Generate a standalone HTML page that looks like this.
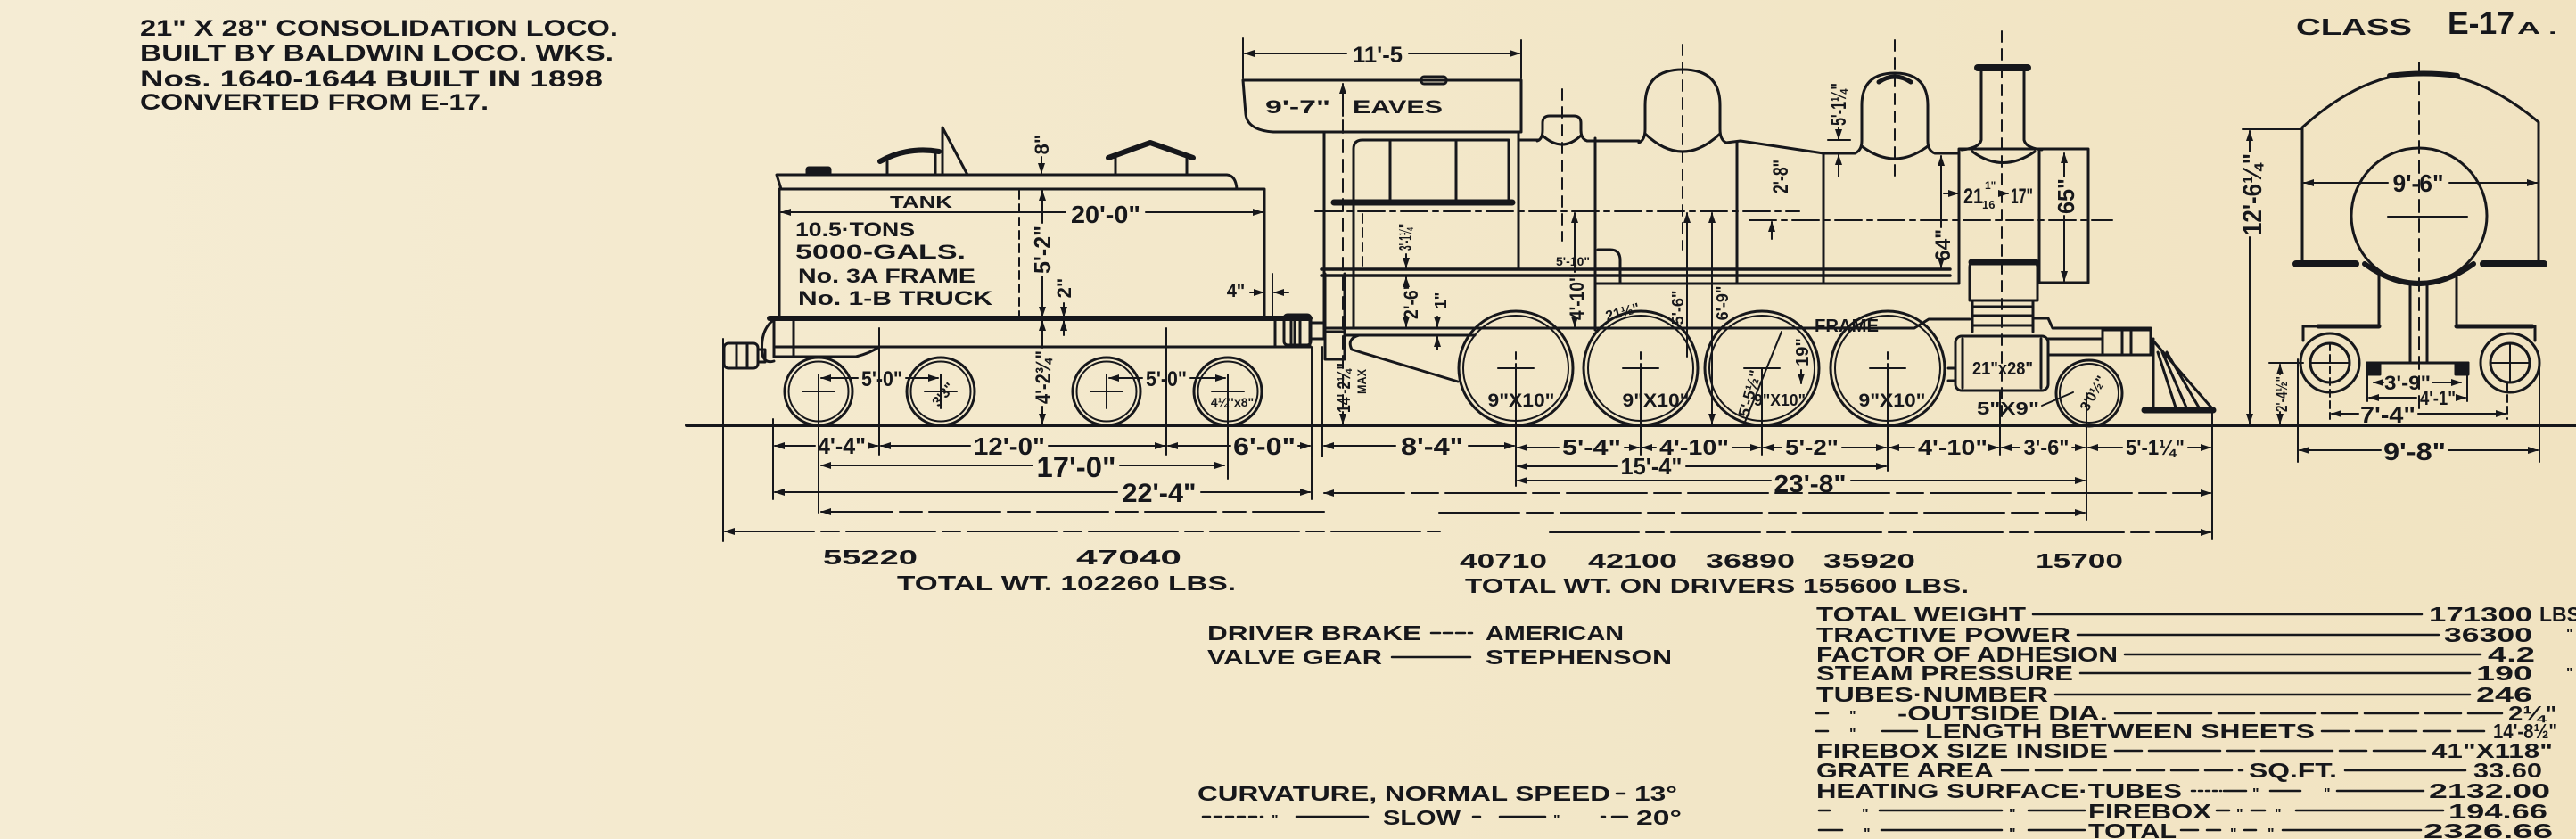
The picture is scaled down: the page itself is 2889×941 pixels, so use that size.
<!DOCTYPE html>
<html><head><meta charset="utf-8">
<style>
html,body{margin:0;padding:0;background:#f3e8cb;}
svg{display:block}
text{font-family:"Liberation Sans",Arial,sans-serif;font-weight:bold;fill:#16171b}
</style></head><body>
<svg width="2889" height="941" viewBox="0 0 2889 941" xmlns="http://www.w3.org/2000/svg">
<defs>
<marker id="a" viewBox="0 0 12 8" refX="11" refY="4" markerWidth="13" markerHeight="8" markerUnits="userSpaceOnUse" orient="auto-start-reverse"><path d="M0,0 L12,4 L0,8 Z" fill="#16171b"/></marker>
<linearGradient id="bg" x1="0" y1="0" x2="1" y2="0"><stop offset="0" stop-color="#f5ecd4"/><stop offset="0.5" stop-color="#f3e8ca"/><stop offset="1" stop-color="#f1e3c1"/></linearGradient>
</defs>
<rect width="2889" height="941" fill="url(#bg)"/>

<g fill="none" stroke="#16171b" stroke-width="3" stroke-linecap="round" stroke-linejoin="round">
<!-- rail -->
<path d="M770,477 H2889" stroke-width="4"/>

<!-- ================= TENDER ================= -->
<path d="M874,357 V212 H1418 V357"/>
<path d="M876,212 L871,196 H1376 Q1386,197 1387,212"/>
<rect x="905" y="188" width="26" height="8" rx="2" fill="#16171b"/>
<path d="M995,196 V178 M1049,196 V172"/>
<path d="M987,181 Q1018,164 1053,170" stroke-width="6"/>
<path d="M1057,196 V143 L1085,196"/>
<path d="M1243,177 L1290,160 L1338,177" stroke-width="6"/>
<path d="M1251,177 V196 M1331,177 V196"/>
<!-- tank dims -->
<g stroke-width="2">
<path d="M1168,176 V194" marker-end="url(#a)"/>
<path d="M1143,214 V355" stroke-dasharray="9 6"/>
<path d="M1169,250 V214" marker-end="url(#a)"/>
<path d="M1169,310 V355" marker-end="url(#a)"/>
<path d="M1193,340 V355" marker-end="url(#a)"/>
<path d="M1193,376 V360" marker-end="url(#a)"/>
<path d="M1169,390 V360" marker-end="url(#a)"/>
<path d="M1169,456 V475" marker-end="url(#a)"/>
<path d="M1195,238 H876" marker-end="url(#a)"/>
<path d="M1285,238 H1416" marker-end="url(#a)"/>
<path d="M1402,328 H1417" marker-end="url(#a)"/>
<path d="M1445,328 H1429" marker-end="url(#a)"/>
<path d="M1427,307 V357"/>
</g>
<!-- frame -->
<path d="M863,357 H1469" stroke-width="6"/>
<path d="M870,389 H1469"/>
<path d="M868,360 V400 M890,360 V400"/>
<path d="M866,360 Q852,372 855,398 Q858,408 868,405"/>
<path d="M868,400 H960 Q976,396 986,389"/>
<rect x="812" y="385" width="38" height="28" rx="5"/>
<path d="M826,385 V413 M838,385 V413 M850,392 H858 V406 H850"/>
<path d="M1430,357 V389 M1448,357 V389 M1458,357 V389 M1469,357 V389"/>
<!-- tender wheels -->
<circle cx="918" cy="439" r="38"/><circle cx="918" cy="439" r="33.5" stroke-width="2"/>
<circle cx="1055" cy="439" r="38"/><circle cx="1055" cy="439" r="33.5" stroke-width="2"/>
<circle cx="1241" cy="439" r="38"/><circle cx="1241" cy="439" r="33.5" stroke-width="2"/>
<circle cx="1377" cy="439" r="38"/><circle cx="1377" cy="439" r="33.5" stroke-width="2"/>
<g stroke-width="2">
<path d="M900,439 H936 M1037,439 H1073 M1223,439 H1259 M1359,439 H1395"/>
<path d="M1055,420 V458 M1241,420 V458"/>
<path d="M962,424 H921" marker-end="url(#a)"/>
<path d="M1016,424 H1052" marker-end="url(#a)"/>
<path d="M1281,424 H1244" marker-end="url(#a)"/>
<path d="M1335,424 H1374" marker-end="url(#a)"/>
</g>

<!-- ================= DIMENSION LINES ================= -->
<g stroke-width="2">
<!-- extension lines -->
<path d="M811,380 V607 M867,470 V560 M918,420 V575 M986,368 V510 M1308,368 V510 M1377,420 V537 M1471,389 V560 M1483,389 V512"/>
<path d="M1700,413 V545 M1840,413 V510 M1976,413 V510 M2117,413 V528 M2243,440 V510 M2340,441 V583 M2481,463 V605"/>
<!-- row 1 -->
<path d="M914,500 H869" marker-end="url(#a)"/><path d="M974,500 H984" marker-end="url(#a)"/>
<path d="M1088,500 H988" marker-end="url(#a)"/><path d="M1176,500 H1306" marker-end="url(#a)"/>
<path d="M1380,500 H1310" marker-end="url(#a)"/><path d="M1456,500 H1469" marker-end="url(#a)"/>
<path d="M1565,500 H1485" marker-end="url(#a)"/><path d="M1647,500 H1698" marker-end="url(#a)"/>
<path d="M1748,502 H1702" marker-end="url(#a)"/><path d="M1822,502 H1838" marker-end="url(#a)"/>
<path d="M1857,502 H1842" marker-end="url(#a)"/><path d="M1943,502 H1974" marker-end="url(#a)"/>
<path d="M1998,502 H1978" marker-end="url(#a)"/><path d="M2066,502 H2115" marker-end="url(#a)"/>
<path d="M2147,502 H2119" marker-end="url(#a)"/><path d="M2233,502 H2241" marker-end="url(#a)"/>
<path d="M2265,502 H2245" marker-end="url(#a)"/><path d="M2324,502 H2338" marker-end="url(#a)"/>
<path d="M2380,502 H2342" marker-end="url(#a)"/><path d="M2454,502 H2479" marker-end="url(#a)"/>
<!-- row 2 -->
<path d="M1158,522 H921" marker-end="url(#a)"/><path d="M1256,522 H1373" marker-end="url(#a)"/>
<path d="M1814,523 H1702" marker-end="url(#a)"/><path d="M1891,523 H2115" marker-end="url(#a)"/>
<!-- row 3 -->
<path d="M1253,552 H869" marker-end="url(#a)"/><path d="M1347,552 H1469" marker-end="url(#a)"/>
<path d="M1986,539 H1702" marker-end="url(#a)"/><path d="M2076,539 H2338" marker-end="url(#a)"/>
<path d="M1485,553 H2479" marker-start="url(#a)" marker-end="url(#a)" stroke-dasharray="90 8 30 8"/>
<!-- row 4 -->
<path d="M921,574 H1490" marker-start="url(#a)" stroke-dasharray="80 8 25 8"/>
<path d="M1614,575 H2338" marker-end="url(#a)" stroke-dasharray="90 8 30 8"/>
<!-- row 5 -->
<path d="M813,596 H1615" marker-start="url(#a)" stroke-dasharray="100 8 20 8"/>
<path d="M1738,597 H2479" marker-end="url(#a)" stroke-dasharray="100 8 20 8"/>
</g>

<!-- ================= LOCOMOTIVE ================= -->
<!-- cab roof -->
<path d="M1394,90 H1706 V148 H1428 Q1399,146 1397,128 Z"/>
<rect x="1594" y="86" width="28" height="8" rx="3"/>
<g stroke-width="2">
<path d="M1510,60 H1396" marker-end="url(#a)"/><path d="M1580,60 H1704" marker-end="url(#a)"/>
<path d="M1394,43 V88 M1706,45 V88"/>
<path d="M1506,130 V94" marker-end="url(#a)"/>
<path d="M1506,135 V475" stroke-dasharray="14 8"/>
</g>
<!-- cab -->
<path d="M1485,148 V373 M1703,148 V302"/>
<path d="M1518,368 V167 Q1518,157 1528,157 H1692 V227"/>
<path d="M1559,157 V227 M1633,157 V227"/>
<path d="M1496,227 H1696" stroke-width="7"/>
<path d="M1528,240 V300" stroke-width="2" stroke-dasharray="10 6"/>
<path d="M1518,368 H1790"/>
<path d="M1486,307 V370 M1508,307 V370"/>
<rect x="1486" y="372" width="22" height="31"/>
<!-- running board -->
<path d="M1482,302 H2187 M1482,309 H2187" stroke-width="3.5"/>
<!-- boiler top, domes -->
<path d="M1703,157 H1726"/>
<path d="M1724,158 Q1730,156 1730,146 V138 Q1730,130 1738,130 H1765 Q1773,130 1773,138 V146 Q1773,156 1780,158 H1838"/>
<path d="M1730,152 Q1752,172 1773,152"/>
<path d="M1838,160 Q1845,157 1845,145 V118 Q1845,78 1887,78 Q1929,78 1929,118 V145 Q1929,157 1936,160 L1952,158 L2045,172 H2080"/>
<path d="M1845,150 Q1887,190 1929,150"/>
<path d="M2080,172 Q2088,169 2088,158 V118 Q2088,82 2125,82 Q2162,82 2162,118 V158 Q2162,169 2170,172 H2197"/>
<path d="M2107,92 Q2125,80 2143,92" stroke-width="5"/>
<path d="M2088,164 Q2125,192 2162,164"/>
<!-- smokebox + stack -->
<path d="M2197,317 V167 H2342 V317 H2287 V170"/>
<path d="M2222,80 V157 Q2220,166 2200,168 M2270,80 V157 Q2272,166 2290,168"/>
<path d="M2218,76 H2274" stroke-width="8"/>
<path d="M2212,170 Q2246,195 2282,170"/>
<!-- boiler verticals / bottom -->
<path d="M1789,155 V370 M1948,160 V318 M2045,172 V318"/>
<path d="M1789,318 H2197"/>
<path d="M1792,280 H1806 Q1817,280 1817,292 V318"/>
<g stroke-width="2">
<path d="M1475,237 H2018" stroke-dasharray="30 6 6 6"/>
<path d="M1962,247 H2369" stroke-dasharray="30 6 6 6"/>
<path d="M1752,100 V270 M1887,50 V280 M2125,45 V205 M2245,35 V470" stroke-dasharray="12 8"/>
</g>
<!-- frame lower -->
<path d="M1485,368 H2147 L2163,358 H2209"/>
<path d="M1508,376 H1654"/>
<path d="M1654,376 H1524 Q1510,380 1516,392 L1635,428"/>
<rect x="1440" y="353" width="30" height="34" rx="4"/>
<path d="M1470,362 H1485 V380 H1470 M1452,353 V387"/>
<!-- drivers -->
<circle cx="1700" cy="413" r="64"/><circle cx="1700" cy="413" r="59" stroke-width="2"/>
<circle cx="1840" cy="413" r="64"/><circle cx="1840" cy="413" r="59" stroke-width="2"/>
<circle cx="1976" cy="413" r="64"/><circle cx="1976" cy="413" r="59" stroke-width="2"/>
<circle cx="2117" cy="413" r="64"/><circle cx="2117" cy="413" r="59" stroke-width="2"/>
<g stroke-width="2">
<path d="M1680,413 H1720 M1820,413 H1860 M1956,413 H1996 M2097,413 H2137"/>
<path d="M1700,395 V432 M1840,395 V432 M2117,395 V432" stroke-dasharray="8 5"/>
</g>
<!-- cylinder, steam chest -->
<rect x="2193" y="377" width="104" height="61" rx="7"/>
<path d="M2201,380 V435 M2289,380 V435 M2185,413 H2193 M2185,427 H2193"/>
<path d="M2209,337 V300 Q2209,293 2216,293 H2278 Q2285,293 2285,300 V337 Z"/>
<path d="M2211,294 H2283" stroke-width="7"/>
<path d="M2212,337 V372 M2280,337 V372 M2212,344 H2280 M2212,354 H2280 M2212,365 H2280"/>
<path d="M2280,357 H2297 L2302,368 H2412 V398 H2297"/>
<path d="M2297,380 H2358"/>
<rect x="2358" y="370" width="54" height="28"/>
<path d="M2380,370 V398 M2390,370 V398"/>
<!-- pilot -->
<path d="M2413,380 L2480,457 M2415,380 V460 M2420,395 L2440,457 M2425,395 L2452,457 M2430,395 L2466,457"/>
<path d="M2405,460 H2482" stroke-width="7"/>
<circle cx="2343" cy="441" r="37"/><circle cx="2343" cy="441" r="33" stroke-width="2"/>
<!-- loco dims -->
<g stroke-width="2">
<path d="M1987,268 V249" marker-end="url(#a)"/>
<path d="M2062,143 V156" marker-end="url(#a)"/>
<path d="M2050,157 H2075"/>
<path d="M2062,198 V174" marker-end="url(#a)"/>
<path d="M2180,217 H2196" marker-end="url(#a)"/>
<path d="M2246,217 H2252" marker-end="url(#a)"/>
<path d="M2315,198 V172" marker-end="url(#a)"/><path d="M2315,242 V315" marker-end="url(#a)"/>
<path d="M2177,255 V175" marker-end="url(#a)"/><path d="M2177,295 V300" marker-end="url(#a)"/>
<path d="M1577,285 V300" marker-end="url(#a)"/>
<path d="M1577,316 V311" marker-end="url(#a)"/><path d="M1577,358 V366" marker-end="url(#a)"/>
<path d="M1612,355 V366" marker-end="url(#a)"/><path d="M1612,392 V378" marker-end="url(#a)"/>
<path d="M1766,305 V239" marker-end="url(#a)"/><path d="M1766,360 V366" marker-end="url(#a)"/>
<path d="M1892,400 V239" marker-end="url(#a)"/>
<path d="M1920,330 V239" marker-end="url(#a)"/><path d="M1920,330 V475" marker-end="url(#a)"/>
<path d="M1955,478 L1998,372"/>
<path d="M2020,415 V430" marker-end="url(#a)"/>
<path d="M2290,455 L2325,440"/>
<path d="M1506,462 V475" marker-end="url(#a)"/>
</g>

<!-- ================= END VIEW ================= -->
<path d="M2582,296 V143 Q2713,24 2847,137 V296"/>
<path d="M2680,85 Q2718,80 2756,85" stroke-width="6"/>
<path d="M2575,296 H2642 M2785,296 H2853" stroke-width="8"/>
<path d="M2713,70 V466" stroke-width="2" stroke-dasharray="14 8"/>
<circle cx="2713" cy="242" r="76"/>
<path d="M2678,243 H2767" stroke-width="2"/>
<path d="M2652,296 Q2713,340 2774,296" stroke-width="6"/>
<path d="M2668,305 V366 H2583 M2755,305 V366 H2843"/>
<path d="M2600,366 H2668 M2755,366 H2840" stroke-width="5"/>
<path d="M2583,366 V382 M2843,366 V382"/>
<circle cx="2613" cy="407" r="33"/><circle cx="2613" cy="407" r="22"/>
<circle cx="2815" cy="407" r="33"/><circle cx="2815" cy="407" r="22"/>
<path d="M2591,407 H2635 M2793,407 H2837 M2815,385 V429" stroke-width="2"/>
<path d="M2613,385 V470 M2812,430 V470" stroke-width="2" stroke-dasharray="8 5"/>
<path d="M2703,318 V407 M2722,318 V407"/>
<path d="M2655,407 H2768"/>
<rect x="2655" y="407" width="14" height="13" fill="#16171b"/>
<rect x="2754" y="407" width="14" height="13" fill="#16171b"/>
<g stroke-width="2">
<path d="M2678,205 H2584" marker-end="url(#a)"/><path d="M2747,205 H2845" marker-end="url(#a)"/>
<path d="M2673,429 H2662" marker-end="url(#a)"/><path d="M2728,429 H2760" marker-end="url(#a)"/>
<path d="M2710,446 H2657" marker-end="url(#a)"/><path d="M2757,446 H2765" marker-end="url(#a)"/>
<path d="M2645,464 H2615" marker-end="url(#a)"/><path d="M2712,464 H2810" marker-end="url(#a)"/>
<path d="M2670,505 H2579" marker-end="url(#a)"/><path d="M2746,505 H2846" marker-end="url(#a)"/>
<path d="M2577,403 V518 M2848,403 V518 M2655,421 V450 M2767,421 V450"/>
<path d="M2523,170 V147" marker-end="url(#a)"/><path d="M2523,266 V475" marker-end="url(#a)"/>
<path d="M2515,145 H2582"/>
<path d="M2557,420 V409" marker-end="url(#a)"/><path d="M2557,462 V475" marker-end="url(#a)"/>
<path d="M2545,407 H2583"/>
</g>

<!-- ================= TABLE / NOTES LINES ================= -->
<g stroke-width="2.5">
<path d="M2280,689 H2716"/>
<path d="M2330,712 H2735"/>
<path d="M2383,734 H2782"/>
<path d="M2333,755 H2770"/>
<path d="M2305,779 H2770"/>
<path d="M2037,800 H2050"/>
<path d="M2372,800 H2806" stroke-dasharray="40 8 60 8"/>
<path d="M2037,820 H2050 M2111,820 H2150"/>
<path d="M2604,820 H2790" stroke-dasharray="30 8"/>
<path d="M2372,842 H2720" stroke-dasharray="30 8 80 8"/>
<path d="M2245,864 H2515" stroke-dasharray="30 8"/>
<path d="M2630,864 H2765"/>
<path d="M2458,887 H2491" stroke-dasharray="4 4"/>
<path d="M2494,887 H2519 M2546,887 H2580 M2621,887 H2718"/>
<path d="M2040,909 H2052 M2108,909 H2245 M2275,909 H2338 M2486,909 H2500 M2525,909 H2540 M2575,909 H2740"/>
<path d="M2040,931 H2066 M2110,931 H2245 M2275,931 H2338 M2446,931 H2465 M2475,931 H2490 M2517,931 H2530 M2560,931 H2715"/>
<path d="M1605,710 H1651" stroke-dasharray="10 4"/>
<path d="M1561,737 H1649"/>
<path d="M1813,890 H1822"/>
<path d="M1349,916 H1416" stroke-dasharray="8 5"/>
<path d="M1454,916 H1534 M1652,916 H1660 M1682,916 H1733 M1796,916 H1800 M1808,916 H1825"/>
</g>
</g>

<!-- ================= TEXT ================= -->
<!-- top-left title -->
<text x="157" y="40" font-size="25" textLength="536" lengthAdjust="spacingAndGlyphs">21" X 28" CONSOLIDATION LOCO.</text>
<text x="157" y="68" font-size="25" textLength="531" lengthAdjust="spacingAndGlyphs">BUILT BY BALDWIN LOCO. WKS.</text>
<text x="157" y="97" font-size="25" textLength="519" lengthAdjust="spacingAndGlyphs">Nos. 1640-1644  BUILT IN 1898</text>
<text x="157" y="123" font-size="25" textLength="391" lengthAdjust="spacingAndGlyphs">CONVERTED FROM E-17.</text>

<!-- class -->
<text x="2575" y="39" font-size="26" textLength="130" lengthAdjust="spacingAndGlyphs">CLASS</text>
<text x="2745" y="38" font-size="35" textLength="75" lengthAdjust="spacingAndGlyphs">E-17</text>
<text x="2823" y="38" font-size="18" textLength="45" lengthAdjust="spacingAndGlyphs">A .</text>

<!-- tender labels -->
<text x="1033" y="233" font-size="18" text-anchor="middle" textLength="70" lengthAdjust="spacingAndGlyphs">TANK</text>
<text x="1240" y="250" font-size="28" text-anchor="middle" textLength="78" lengthAdjust="spacingAndGlyphs">20'-0"</text>
<text x="892" y="265" font-size="22" textLength="134" lengthAdjust="spacingAndGlyphs">10.5·TONS</text>
<text x="892" y="290" font-size="22" textLength="191" lengthAdjust="spacingAndGlyphs">5000-GALS.</text>
<text x="895" y="317" font-size="22" textLength="199" lengthAdjust="spacingAndGlyphs">No. 3A FRAME</text>
<text x="895" y="342" font-size="22" textLength="218" lengthAdjust="spacingAndGlyphs">No. 1-B  TRUCK</text>
<text x="1386" y="333" font-size="20" text-anchor="middle">4"</text>
<text transform="translate(1176,162) rotate(-90)" font-size="22" text-anchor="middle">8"</text>
<text transform="translate(1178,280) rotate(-90)" font-size="26" text-anchor="middle" textLength="54" lengthAdjust="spacingAndGlyphs">5'-2"</text>
<text transform="translate(1201,323) rotate(-90)" font-size="22" text-anchor="middle">2"</text>
<text transform="translate(1178,423) rotate(-90)" font-size="24" text-anchor="middle" textLength="60" lengthAdjust="spacingAndGlyphs">4'-2¾"</text>
<text x="989" y="433" font-size="24" text-anchor="middle" textLength="46" lengthAdjust="spacingAndGlyphs">5'-0"</text>
<text x="1308" y="433" font-size="24" text-anchor="middle" textLength="46" lengthAdjust="spacingAndGlyphs">5'-0"</text>
<text transform="translate(1062,446) rotate(-50)" font-size="16" text-anchor="middle">3'3"</text>
<text x="1382" y="456" font-size="14" text-anchor="middle">4¼"x8"</text>

<!-- dims row text -->
<text x="944" y="509" font-size="26" text-anchor="middle" textLength="54" lengthAdjust="spacingAndGlyphs">4'-4"</text>
<text x="1132" y="510" font-size="28" text-anchor="middle" textLength="80" lengthAdjust="spacingAndGlyphs">12'-0"</text>
<text x="1418" y="510" font-size="28" text-anchor="middle" textLength="70" lengthAdjust="spacingAndGlyphs">6'-0"</text>
<text x="1606" y="510" font-size="28" text-anchor="middle" textLength="70" lengthAdjust="spacingAndGlyphs">8'-4"</text>
<text x="1785" y="510" font-size="24" text-anchor="middle" textLength="66" lengthAdjust="spacingAndGlyphs">5'-4"</text>
<text x="1900" y="510" font-size="24" text-anchor="middle" textLength="78" lengthAdjust="spacingAndGlyphs">4'-10"</text>
<text x="2032" y="510" font-size="24" text-anchor="middle" textLength="60" lengthAdjust="spacingAndGlyphs">5'-2"</text>
<text x="2190" y="510" font-size="24" text-anchor="middle" textLength="78" lengthAdjust="spacingAndGlyphs">4'-10"</text>
<text x="2295" y="510" font-size="24" text-anchor="middle" textLength="51" lengthAdjust="spacingAndGlyphs">3'-6"</text>
<text x="2417" y="510" font-size="24" text-anchor="middle" textLength="66" lengthAdjust="spacingAndGlyphs">5'-1¼"</text>
<text x="1207" y="535" font-size="32" text-anchor="middle" textLength="89" lengthAdjust="spacingAndGlyphs">17'-0"</text>
<text x="1852" y="532" font-size="26" text-anchor="middle" textLength="69" lengthAdjust="spacingAndGlyphs">15'-4"</text>
<text x="2030" y="552" font-size="28" text-anchor="middle" textLength="81" lengthAdjust="spacingAndGlyphs">23'-8"</text>
<text x="1300" y="563" font-size="30" text-anchor="middle" textLength="83" lengthAdjust="spacingAndGlyphs">22'-4"</text>

<!-- weights -->
<text x="923" y="633" font-size="23" textLength="106" lengthAdjust="spacingAndGlyphs">55220</text>
<text x="1207" y="633" font-size="23" textLength="118" lengthAdjust="spacingAndGlyphs">47040</text>
<text x="1006" y="662" font-size="23" textLength="380" lengthAdjust="spacingAndGlyphs">TOTAL WT.  102260 LBS.</text>
<text x="1637" y="637" font-size="23" textLength="98" lengthAdjust="spacingAndGlyphs">40710</text>
<text x="1781" y="637" font-size="23" textLength="100" lengthAdjust="spacingAndGlyphs">42100</text>
<text x="1913" y="637" font-size="23" textLength="100" lengthAdjust="spacingAndGlyphs">36890</text>
<text x="2045" y="637" font-size="23" textLength="103" lengthAdjust="spacingAndGlyphs">35920</text>
<text x="2283" y="637" font-size="23" textLength="98" lengthAdjust="spacingAndGlyphs">15700</text>
<text x="1643" y="665" font-size="23" textLength="565" lengthAdjust="spacingAndGlyphs">TOTAL WT. ON DRIVERS 155600 LBS.</text>

<!-- loco labels -->
<text x="1545" y="70" font-size="25" text-anchor="middle" textLength="56" lengthAdjust="spacingAndGlyphs">11'-5</text>
<text x="1419" y="127" font-size="21" textLength="73" lengthAdjust="spacingAndGlyphs">9'-7"</text>
<text x="1517" y="127" font-size="21" textLength="101" lengthAdjust="spacingAndGlyphs">EAVES</text>
<text transform="translate(2005,198) rotate(-90)" font-size="24" text-anchor="middle" textLength="38" lengthAdjust="spacingAndGlyphs">2'-8"</text>
<text transform="translate(2070,117) rotate(-90)" font-size="24" text-anchor="middle" textLength="48" lengthAdjust="spacingAndGlyphs">5'-1¼"</text>
<text x="2202" y="228" font-size="24" textLength="22" lengthAdjust="spacingAndGlyphs">21</text>
<text x="2226" y="212" font-size="12">1"</text>
<text x="2223" y="234" font-size="13">16</text>
<text x="2255" y="228" font-size="24" textLength="25" lengthAdjust="spacingAndGlyphs">17"</text>
<text transform="translate(2326,220) rotate(-90)" font-size="26" text-anchor="middle" textLength="40" lengthAdjust="spacingAndGlyphs">65"</text>
<text transform="translate(2187,275) rotate(-90)" font-size="24" text-anchor="middle" textLength="36" lengthAdjust="spacingAndGlyphs">64"</text>
<text transform="translate(1583,266) rotate(-90)" font-size="20" text-anchor="middle" textLength="30" lengthAdjust="spacingAndGlyphs">3'-1¼"</text>
<text transform="translate(1590,337) rotate(-90)" font-size="22" text-anchor="middle" textLength="42" lengthAdjust="spacingAndGlyphs">2'-6"</text>
<text transform="translate(1622,337) rotate(-90)" font-size="18" text-anchor="middle">1"</text>
<text transform="translate(1776,333) rotate(-90)" font-size="22" text-anchor="middle" textLength="52" lengthAdjust="spacingAndGlyphs">4'-10"</text>
<text x="1764" y="298" font-size="14" text-anchor="middle">5'-10"</text>
<text transform="translate(1821,355) rotate(-15)" font-size="16" text-anchor="middle">21½"</text>
<text transform="translate(1888,345) rotate(-90)" font-size="18" text-anchor="middle">5'-6"</text>
<text transform="translate(1938,340) rotate(-90)" font-size="18" text-anchor="middle">6'-9"</text>
<text transform="translate(1968,443) rotate(-75)" font-size="18" text-anchor="middle">5'-5½"</text>
<text transform="translate(2028,395) rotate(-90)" font-size="20" text-anchor="middle">19"</text>
<text transform="translate(1514,435) rotate(-90)" font-size="20" text-anchor="middle" textLength="56" lengthAdjust="spacingAndGlyphs">14'-2¼"</text>
<text transform="translate(1532,428) rotate(-90)" font-size="14" text-anchor="middle" textLength="28" lengthAdjust="spacingAndGlyphs">MAX</text>
<text x="2035" y="372" font-size="20" textLength="72" lengthAdjust="spacingAndGlyphs">FRAME</text>
<text x="1706" y="456" font-size="21" text-anchor="middle" textLength="75" lengthAdjust="spacingAndGlyphs">9"X10"</text>
<text x="1857" y="456" font-size="21" text-anchor="middle" textLength="75" lengthAdjust="spacingAndGlyphs">9"X10"</text>
<text x="1996" y="455" font-size="18" text-anchor="middle" textLength="58" lengthAdjust="spacingAndGlyphs">9"X10"</text>
<text x="2122" y="456" font-size="21" text-anchor="middle" textLength="75" lengthAdjust="spacingAndGlyphs">9"X10"</text>
<text x="2246" y="420" font-size="20" text-anchor="middle" textLength="68" lengthAdjust="spacingAndGlyphs">21"x28"</text>
<text x="2252" y="465" font-size="20" text-anchor="middle" textLength="70" lengthAdjust="spacingAndGlyphs">5"X9"</text>
<text transform="translate(2352,444) rotate(-60)" font-size="16" text-anchor="middle">3'0½"</text>

<!-- end view labels -->
<text x="2712" y="215" font-size="28" text-anchor="middle" textLength="57" lengthAdjust="spacingAndGlyphs">9'-6"</text>
<text transform="translate(2536,218) rotate(-90)" font-size="30" text-anchor="middle" textLength="92" lengthAdjust="spacingAndGlyphs">12'-6¼"</text>
<text transform="translate(2565,442) rotate(-90)" font-size="18" text-anchor="middle" textLength="40" lengthAdjust="spacingAndGlyphs">2'-4½"</text>
<text x="2700" y="437" font-size="22" text-anchor="middle" textLength="52" lengthAdjust="spacingAndGlyphs">3'-9"</text>
<text x="2734" y="454" font-size="22" text-anchor="middle" textLength="40" lengthAdjust="spacingAndGlyphs">4'-1"</text>
<text x="2678" y="474" font-size="26" text-anchor="middle" textLength="62" lengthAdjust="spacingAndGlyphs">7'-4"</text>
<text x="2708" y="516" font-size="28" text-anchor="middle" textLength="70" lengthAdjust="spacingAndGlyphs">9'-8"</text>

<!-- middle notes -->
<text x="1354" y="718" font-size="23" textLength="240" lengthAdjust="spacingAndGlyphs">DRIVER BRAKE</text>
<text x="1666" y="718" font-size="23" textLength="155" lengthAdjust="spacingAndGlyphs">AMERICAN</text>
<text x="1354" y="745" font-size="23" textLength="196" lengthAdjust="spacingAndGlyphs">VALVE GEAR</text>
<text x="1666" y="745" font-size="23" textLength="209" lengthAdjust="spacingAndGlyphs">STEPHENSON</text>
<text x="1343" y="898" font-size="23" textLength="463" lengthAdjust="spacingAndGlyphs">CURVATURE, NORMAL SPEED</text>
<text x="1833" y="898" font-size="23" textLength="48" lengthAdjust="spacingAndGlyphs">13°</text>
<text x="1426" y="925" font-size="16">"</text>
<text x="1551" y="925" font-size="23" textLength="87" lengthAdjust="spacingAndGlyphs">SLOW</text>
<text x="1742" y="925" font-size="16">"</text>
<text x="1835" y="925" font-size="23" textLength="51" lengthAdjust="spacingAndGlyphs">20°</text>

<!-- table -->
<g font-size="23">
<text x="2037" y="697" textLength="235" lengthAdjust="spacingAndGlyphs">TOTAL WEIGHT</text>
<text x="2724" y="697" textLength="116" lengthAdjust="spacingAndGlyphs">171300</text>
<text x="2848" y="697">LBS.</text>
<text x="2037" y="720" textLength="285" lengthAdjust="spacingAndGlyphs">TRACTIVE POWER</text>
<text x="2741" y="720" textLength="99" lengthAdjust="spacingAndGlyphs">36300</text>
<text x="2878" y="716" font-size="16">"</text>
<text x="2037" y="742" textLength="338" lengthAdjust="spacingAndGlyphs">FACTOR OF ADHESION</text>
<text x="2790" y="742" textLength="53" lengthAdjust="spacingAndGlyphs">4.2</text>
<text x="2037" y="763" textLength="288" lengthAdjust="spacingAndGlyphs">STEAM PRESSURE</text>
<text x="2777" y="763" textLength="63" lengthAdjust="spacingAndGlyphs">190</text>
<text x="2878" y="760" font-size="16">"</text>
<text x="2037" y="787" textLength="260" lengthAdjust="spacingAndGlyphs">TUBES·NUMBER</text>
<text x="2777" y="787" textLength="63" lengthAdjust="spacingAndGlyphs">246</text>
<text x="2074" y="808" font-size="16">"</text>
<text x="2128" y="808" textLength="236" lengthAdjust="spacingAndGlyphs">-OUTSIDE DIA.</text>
<text x="2813" y="808" textLength="55" lengthAdjust="spacingAndGlyphs">2¼"</text>
<text x="2074" y="828" font-size="16">"</text>
<text x="2159" y="828" textLength="437" lengthAdjust="spacingAndGlyphs">LENGTH BETWEEN SHEETS</text>
<text x="2796" y="828" textLength="72" lengthAdjust="spacingAndGlyphs">14'-8½"</text>
<text x="2037" y="850" textLength="327" lengthAdjust="spacingAndGlyphs">FIREBOX SIZE INSIDE</text>
<text x="2727" y="850" textLength="136" lengthAdjust="spacingAndGlyphs">41"X118"</text>
<text x="2037" y="872" textLength="199" lengthAdjust="spacingAndGlyphs">GRATE AREA</text>
<text x="2522" y="872" textLength="99" lengthAdjust="spacingAndGlyphs">SQ.FT.</text>
<text x="2774" y="872" textLength="77" lengthAdjust="spacingAndGlyphs">33.60</text>
<text x="2037" y="895" textLength="410" lengthAdjust="spacingAndGlyphs">HEATING SURFACE·TUBES</text>
<text x="2526" y="895" font-size="16">"</text>
<text x="2606" y="895" font-size="16">"</text>
<text x="2724" y="895" textLength="136" lengthAdjust="spacingAndGlyphs">2132.00</text>
<text x="2088" y="918" font-size="16">"</text>
<text x="2253" y="918" font-size="16">"</text>
<text x="2342" y="918" textLength="138" lengthAdjust="spacingAndGlyphs">FIREBOX</text>
<text x="2508" y="918" font-size="16">"</text>
<text x="2551" y="918" font-size="16">"</text>
<text x="2746" y="918" textLength="111" lengthAdjust="spacingAndGlyphs">194.66</text>
<text x="2090" y="940" font-size="16">"</text>
<text x="2253" y="940" font-size="16">"</text>
<text x="2342" y="940" textLength="99" lengthAdjust="spacingAndGlyphs">TOTAL</text>
<text x="2501" y="940" font-size="16">"</text>
<text x="2543" y="940" font-size="16">"</text>
<text x="2718" y="940" textLength="145" lengthAdjust="spacingAndGlyphs">2326.66</text>
</g>
</svg>
</body></html>
